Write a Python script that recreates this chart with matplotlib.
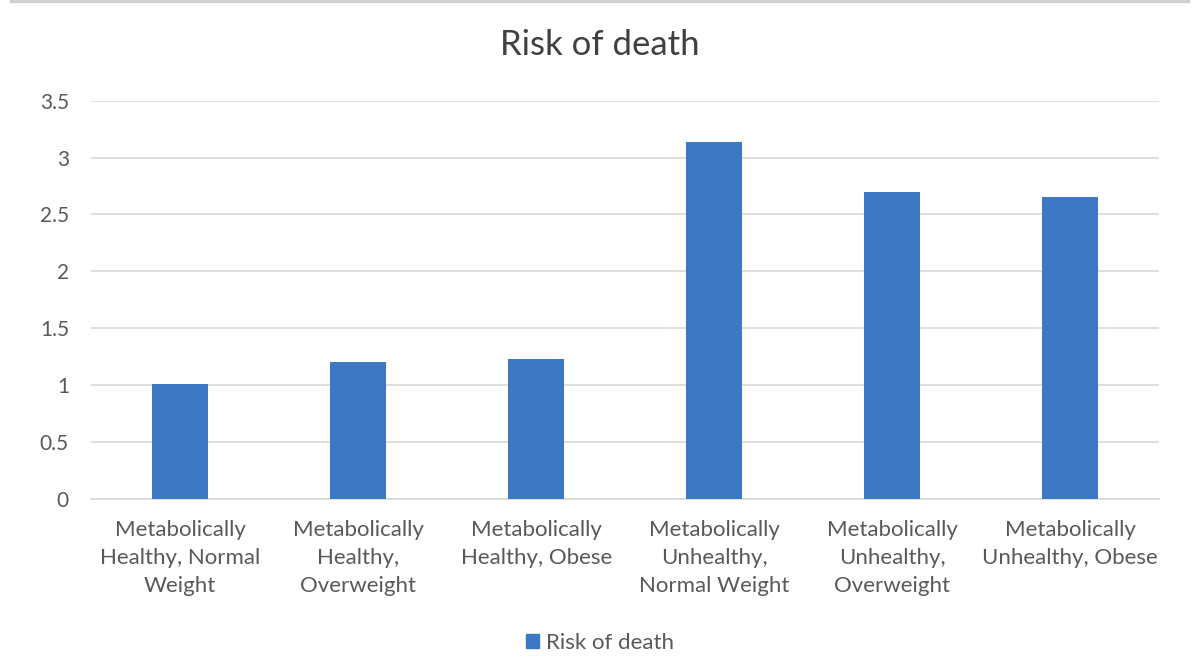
import matplotlib.pyplot as plt
from matplotlib.lines import Line2D

categories = [
    'Metabolically\nHealthy, Normal\nWeight',
    'Metabolically\nHealthy,\nOverweight',
    'Metabolically\nHealthy, Obese',
    'Metabolically\nUnhealthy,\nNormal Weight',
    'Metabolically\nUnhealthy,\nOverweight',
    'Metabolically\nUnhealthy, Obese',
]
risk = [1.01, 1.20, 1.23, 3.14, 2.70, 2.65]
yticks = [0, 0.5, 1, 1.5, 2, 2.5, 3, 3.5]
series_name = 'Risk of death'

text_color = '#595959'
bar_color = '#3C78C4'
grid_color = '#D9D9D9'

plt.rcParams['font.family'] = ['Lato', 'DejaVu Sans']

fig = plt.figure(figsize=(12, 6.67), dpi=100)
ax = fig.add_axes([0.076, 0.252, 0.89, 0.597])

x = range(len(categories))
ax.bar(x, risk, width=0.315, color=bar_color, zorder=3)

ax.set_xlim(-0.5, len(categories) - 0.5)
ax.set_ylim(0, 3.5)
ax.set_yticks(yticks)
ax.set_yticklabels([f'{t:g}' for t in yticks])
ax.set_xticks(list(x))
ax.set_xticklabels(categories, linespacing=1.5)

ax.grid(axis='y', color=grid_color, linewidth=1.2, zorder=0)
for side in ['top', 'right', 'left']:
    ax.spines[side].set_visible(False)
ax.spines['bottom'].set_color(grid_color)
ax.spines['bottom'].set_linewidth(1.2)
ax.tick_params(axis='both', length=0, colors=text_color)
ax.tick_params(axis='y', pad=16, labelsize=15)
ax.tick_params(axis='x', pad=15.5, labelsize=16)

fig.text(0.5, 0.932, series_name, ha='center', va='center', fontsize=25, color='#404040')

# thin frame line at the top of the image
fig.add_artist(Line2D([0.01, 0.99], [0.998, 0.998], color='#D0D0D0', linewidth=3))

handle = plt.Rectangle((0, 0), 1, 1, color=bar_color)
fig.legend([handle], [series_name], loc='center', bbox_to_anchor=(0.5, 0.036),
           frameon=False, fontsize=16, handlelength=0.6, handleheight=0.6,
           handletextpad=0.3, labelcolor=text_color)

fig.savefig('out.png', dpi=100)
